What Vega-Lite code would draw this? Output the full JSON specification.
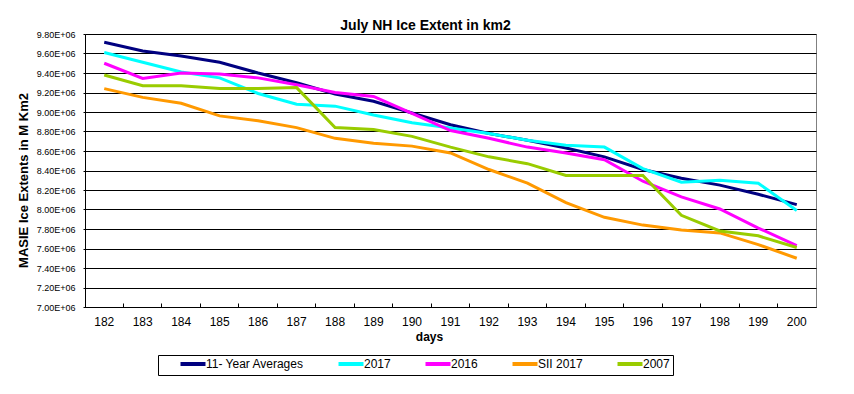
{
  "$schema": "https://vega.github.io/schema/vega-lite/v6.json",
  "width": 731,
  "height": 273,
  "autosize": {"type": "none"},
  "padding": {"left": 85, "top": 34, "right": 38, "bottom": 87},
  "background": "white",
  "title": {
    "text": "July NH Ice Extent in km2",
    "font": "Liberation Sans",
    "fontSize": 14,
    "fontWeight": "bold",
    "color": "black",
    "anchor": "middle",
    "dx": -25,
    "baseline": "bottom",
    "offset": -17
  },
  "config": {
    "view": {"stroke": "#808080", "strokeWidth": 1},
    "font": "Liberation Sans"
  },
  "datasets": {
    "ice": [
      {"day": 182, "series": "11- Year Averages", "value": 9715000},
      {"day": 183, "series": "11- Year Averages", "value": 9626000},
      {"day": 184, "series": "11- Year Averages", "value": 9575000},
      {"day": 185, "series": "11- Year Averages", "value": 9510000},
      {"day": 186, "series": "11- Year Averages", "value": 9400000},
      {"day": 187, "series": "11- Year Averages", "value": 9300000},
      {"day": 188, "series": "11- Year Averages", "value": 9185000},
      {"day": 189, "series": "11- Year Averages", "value": 9110000},
      {"day": 190, "series": "11- Year Averages", "value": 8990000},
      {"day": 191, "series": "11- Year Averages", "value": 8870000},
      {"day": 192, "series": "11- Year Averages", "value": 8780000},
      {"day": 193, "series": "11- Year Averages", "value": 8710000},
      {"day": 194, "series": "11- Year Averages", "value": 8630000},
      {"day": 195, "series": "11- Year Averages", "value": 8540000},
      {"day": 196, "series": "11- Year Averages", "value": 8410000},
      {"day": 197, "series": "11- Year Averages", "value": 8320000},
      {"day": 198, "series": "11- Year Averages", "value": 8250000},
      {"day": 199, "series": "11- Year Averages", "value": 8156000},
      {"day": 200, "series": "11- Year Averages", "value": 8050000},
      {"day": 182, "series": "2017", "value": 9610000},
      {"day": 183, "series": "2017", "value": 9510000},
      {"day": 184, "series": "2017", "value": 9410000},
      {"day": 185, "series": "2017", "value": 9350000},
      {"day": 186, "series": "2017", "value": 9190000},
      {"day": 187, "series": "2017", "value": 9080000},
      {"day": 188, "series": "2017", "value": 9060000},
      {"day": 189, "series": "2017", "value": 8970000},
      {"day": 190, "series": "2017", "value": 8890000},
      {"day": 191, "series": "2017", "value": 8835000},
      {"day": 192, "series": "2017", "value": 8780000},
      {"day": 193, "series": "2017", "value": 8710000},
      {"day": 194, "series": "2017", "value": 8660000},
      {"day": 195, "series": "2017", "value": 8640000},
      {"day": 196, "series": "2017", "value": 8420000},
      {"day": 197, "series": "2017", "value": 8280000},
      {"day": 198, "series": "2017", "value": 8300000},
      {"day": 199, "series": "2017", "value": 8270000},
      {"day": 200, "series": "2017", "value": 7990000},
      {"day": 182, "series": "2016", "value": 9500000},
      {"day": 183, "series": "2016", "value": 9345000},
      {"day": 184, "series": "2016", "value": 9400000},
      {"day": 185, "series": "2016", "value": 9390000},
      {"day": 186, "series": "2016", "value": 9350000},
      {"day": 187, "series": "2016", "value": 9280000},
      {"day": 188, "series": "2016", "value": 9200000},
      {"day": 189, "series": "2016", "value": 9160000},
      {"day": 190, "series": "2016", "value": 8985000},
      {"day": 191, "series": "2016", "value": 8810000},
      {"day": 192, "series": "2016", "value": 8730000},
      {"day": 193, "series": "2016", "value": 8640000},
      {"day": 194, "series": "2016", "value": 8580000},
      {"day": 195, "series": "2016", "value": 8510000},
      {"day": 196, "series": "2016", "value": 8290000},
      {"day": 197, "series": "2016", "value": 8130000},
      {"day": 198, "series": "2016", "value": 8005000},
      {"day": 199, "series": "2016", "value": 7810000},
      {"day": 200, "series": "2016", "value": 7630000},
      {"day": 182, "series": "SII 2017", "value": 9240000},
      {"day": 183, "series": "SII 2017", "value": 9150000},
      {"day": 184, "series": "SII 2017", "value": 9090000},
      {"day": 185, "series": "SII 2017", "value": 8960000},
      {"day": 186, "series": "SII 2017", "value": 8910000},
      {"day": 187, "series": "SII 2017", "value": 8840000},
      {"day": 188, "series": "SII 2017", "value": 8730000},
      {"day": 189, "series": "SII 2017", "value": 8680000},
      {"day": 190, "series": "SII 2017", "value": 8650000},
      {"day": 191, "series": "SII 2017", "value": 8580000},
      {"day": 192, "series": "SII 2017", "value": 8410000},
      {"day": 193, "series": "SII 2017", "value": 8270000},
      {"day": 194, "series": "SII 2017", "value": 8070000},
      {"day": 195, "series": "SII 2017", "value": 7920000},
      {"day": 196, "series": "SII 2017", "value": 7840000},
      {"day": 197, "series": "SII 2017", "value": 7790000},
      {"day": 198, "series": "SII 2017", "value": 7760000},
      {"day": 199, "series": "SII 2017", "value": 7640000},
      {"day": 200, "series": "SII 2017", "value": 7500000},
      {"day": 182, "series": "2007", "value": 9380000},
      {"day": 183, "series": "2007", "value": 9270000},
      {"day": 184, "series": "2007", "value": 9270000},
      {"day": 185, "series": "2007", "value": 9240000},
      {"day": 186, "series": "2007", "value": 9240000},
      {"day": 187, "series": "2007", "value": 9250000},
      {"day": 188, "series": "2007", "value": 8840000},
      {"day": 189, "series": "2007", "value": 8820000},
      {"day": 190, "series": "2007", "value": 8750000},
      {"day": 191, "series": "2007", "value": 8640000},
      {"day": 192, "series": "2007", "value": 8540000},
      {"day": 193, "series": "2007", "value": 8470000},
      {"day": 194, "series": "2007", "value": 8350000},
      {"day": 195, "series": "2007", "value": 8350000},
      {"day": 196, "series": "2007", "value": 8350000},
      {"day": 197, "series": "2007", "value": 7940000},
      {"day": 198, "series": "2007", "value": 7780000},
      {"day": 199, "series": "2007", "value": 7730000},
      {"day": 200, "series": "2007", "value": 7610000}
    ]
  },
  "data": {"name": "ice"},
  "mark": {"type": "line", "strokeWidth": 3},
  "encoding": {
    "x": {
      "field": "day",
      "type": "ordinal",
      "scale": {"type": "band", "paddingInner": 0, "paddingOuter": 0},
      "axis": {
        "title": "days",
        "titleFont": "Liberation Sans",
        "titleFontSize": 12,
        "titleFontWeight": "bold",
        "titleColor": "black",
        "titlePadding": 4,
        "titleX": 344,
        "labelAngle": 0,
        "labelFont": "Liberation Sans",
        "labelFontSize": 12,
        "labelColor": "black",
        "labelPadding": 13,
        "labelBaseline": "top",
        "bandPosition": 0,
        "tickSize": -4,
        "tickColor": "black",
        "domainColor": "black",
        "grid": false
      }
    },
    "y": {
      "field": "value",
      "type": "quantitative",
      "scale": {"domain": [7000000, 9800000], "nice": false, "zero": false},
      "axis": {
        "title": "MASIE Ice Extents in M Km2",
        "titleFont": "Liberation Sans",
        "titleFontSize": 13,
        "titleFontWeight": "bold",
        "titleColor": "black",
        "titlePadding": 6,
        "titleY": 146,
        "values": [7000000, 7200000, 7400000, 7600000, 7800000, 8000000, 8200000, 8400000, 8600000, 8800000, 9000000, 9200000, 9400000, 9600000, 9800000],
        "labelExpr": "format(datum.value / 1000000, '.2f') + 'E+06'",
        "labelFont": "Liberation Sans",
        "labelFontSize": 9,
        "labelColor": "black",
        "labelPadding": 8,
        "tickSize": 2,
        "tickColor": "black",
        "domainColor": "black",
        "grid": true,
        "gridColor": "black",
        "gridOpacity": 1,
        "gridWidth": 1
      }
    },
    "color": {
      "field": "series",
      "type": "nominal",
      "scale": {
        "domain": ["11- Year Averages", "2017", "2016", "SII 2017", "2007"],
        "range": ["#000080", "#00FFFF", "#FF00FF", "#FF9900", "#99CC00"]
      },
      "legend": {
        "title": " ",
        "titleFontSize": 12,
        "titleOrient": "right",
        "titlePadding": -30,
        "orient": "none",
        "legendX": 73,
        "legendY": 321,
        "direction": "horizontal",
        "strokeColor": "black",
        "fillColor": "white",
        "padding": 3,
        "symbolOffset": 26,
        "symbolType": "M-5,0H5",
        "symbolSize": 25,
        "symbolStrokeWidth": 4,
        "labelFont": "Liberation Sans",
        "labelFontSize": 12,
        "labelColor": "black",
        "labelOffset": 7,
        "columnPadding": 15
      }
    }
  }
}
